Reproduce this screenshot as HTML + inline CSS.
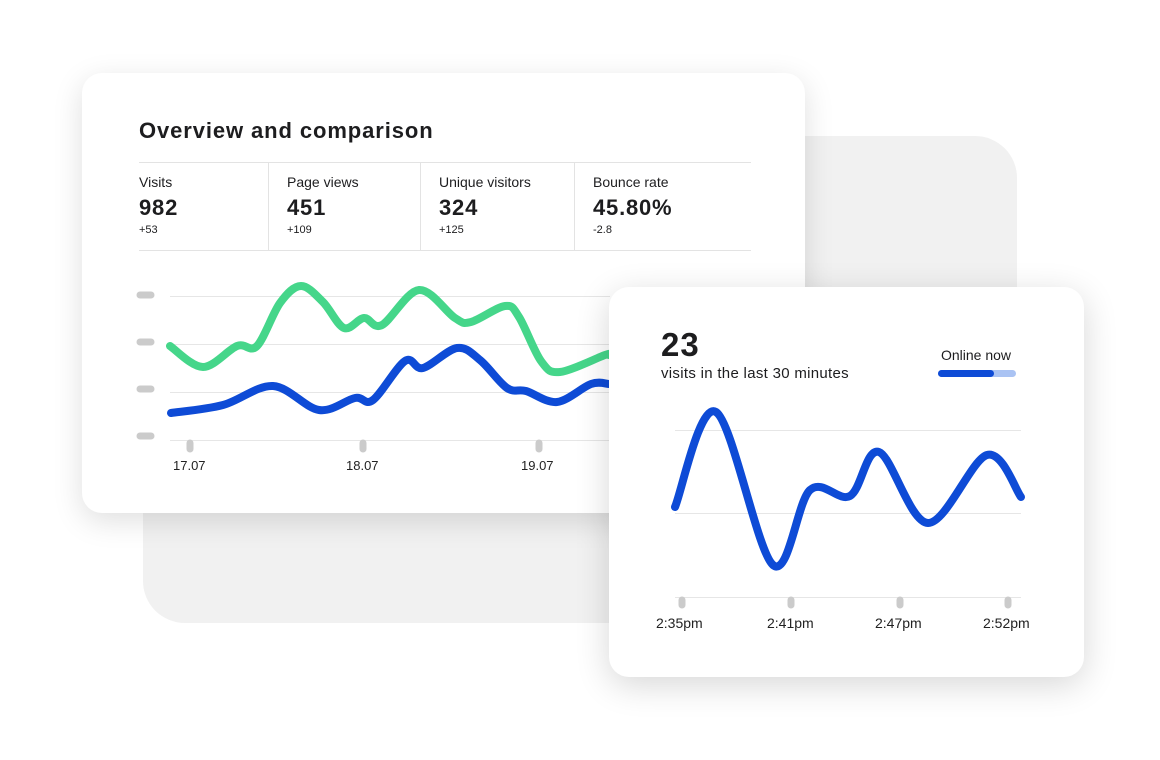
<!DOCTYPE html>
<html><head><meta charset="utf-8"><style>
html,body{margin:0;padding:0;background:#fff;}
body{width:1160px;height:760px;position:relative;overflow:hidden;font-family:"Liberation Sans",sans-serif;color:#1d1d1f;}
.bg{position:absolute;left:143px;top:136px;width:874px;height:487px;background:#f1f1f1;border-radius:42px;}
.card{position:absolute;background:#fff;border-radius:20px;box-shadow:0 8px 30px rgba(0,0,0,0.13);}
.t{position:absolute;white-space:nowrap;}
.v{font-size:22px;font-weight:bold;letter-spacing:0.8px;}
svg{position:absolute;left:0;top:0;}
</style></head><body>
<div class="bg"></div>
<div class="card" style="left:82px;top:73px;width:723px;height:440px;"></div>
<div class="t" style="left:139px;top:118px;font-size:22px;font-weight:bold;letter-spacing:0.9px;">Overview and comparison</div>
<div style="position:absolute;left:139px;top:162px;width:612px;height:1px;background:#e3e3e3"></div>
<div style="position:absolute;left:139px;top:250px;width:612px;height:1px;background:#e3e3e3"></div>
<div style="position:absolute;left:268px;top:162px;width:1px;height:88px;background:#e3e3e3"></div>
<div style="position:absolute;left:420px;top:162px;width:1px;height:88px;background:#e3e3e3"></div>
<div style="position:absolute;left:574px;top:162px;width:1px;height:88px;background:#e3e3e3"></div>
<div class="t" style="left:139px;top:174px;font-size:14px;">Visits</div>
<div class="t v" style="left:139px;top:195px;">982</div>
<div class="t" style="left:139px;top:224px;font-size:11px;">+53</div>
<div class="t" style="left:287px;top:174px;font-size:14px;">Page views</div>
<div class="t v" style="left:287px;top:195px;">451</div>
<div class="t" style="left:287px;top:224px;font-size:11px;">+109</div>
<div class="t" style="left:439px;top:174px;font-size:14px;">Unique visitors</div>
<div class="t v" style="left:439px;top:195px;">324</div>
<div class="t" style="left:439px;top:224px;font-size:11px;">+125</div>
<div class="t" style="left:593px;top:174px;font-size:14px;">Bounce rate</div>
<div class="t v" style="left:593px;top:195px;">45.80%</div>
<div class="t" style="left:593px;top:224px;font-size:11px;">-2.8</div>
<svg width="1160" height="760">
<g stroke="#e6e6e6" stroke-width="1">
<line x1="170" y1="296.5" x2="610" y2="296.5"/><line x1="170" y1="344.5" x2="610" y2="344.5"/>
<line x1="170" y1="392.5" x2="610" y2="392.5"/><line x1="170" y1="440.5" x2="610" y2="440.5"/></g>
<g stroke="#cbcbcb" stroke-width="7" stroke-linecap="round">
<line x1="140" y1="295" x2="151" y2="295"/><line x1="140" y1="342" x2="151" y2="342"/>
<line x1="140" y1="389" x2="151" y2="389"/><line x1="140" y1="436" x2="151" y2="436"/>
<line x1="190" y1="443" x2="190" y2="449"/><line x1="363" y1="443" x2="363" y2="449"/><line x1="539" y1="443" x2="539" y2="449"/></g>
<path id="g" fill="none" stroke="#45d68a" stroke-width="8" stroke-linecap="round"/>
<path id="b" fill="none" stroke="#0e4bd6" stroke-width="8" stroke-linecap="round"/>
<g font-size="13" fill="#222"><text x="173" y="470">17.07</text><text x="346" y="470">18.07</text><text x="521" y="470">19.07</text></g>
</svg>
<div class="card" style="left:609px;top:287px;width:475px;height:390px;box-shadow:0 8px 34px rgba(0,0,0,0.16);"></div>
<div class="t" style="left:661px;top:326px;font-size:33px;font-weight:bold;letter-spacing:1px;">23</div>
<div class="t" style="left:661px;top:365px;font-size:15px;letter-spacing:0.3px;">visits in the last 30 minutes</div>
<div class="t" style="left:941px;top:347px;font-size:14px;">Online now</div>
<div style="position:absolute;left:938px;top:370px;width:78px;height:7px;border-radius:4px;background:#aac3f3"></div>
<div style="position:absolute;left:938px;top:370px;width:56px;height:7px;border-radius:4px;background:#0e4bd6"></div>
<svg width="1160" height="760">
<g stroke="#e6e6e6" stroke-width="1">
<line x1="675" y1="430.5" x2="1021" y2="430.5"/><line x1="675" y1="513.5" x2="1021" y2="513.5"/><line x1="675" y1="597.5" x2="1021" y2="597.5"/></g>
<g stroke="#cbcbcb" stroke-width="7" stroke-linecap="round">
<line x1="682" y1="600" x2="682" y2="605"/><line x1="791" y1="600" x2="791" y2="605"/><line x1="900" y1="600" x2="900" y2="605"/><line x1="1008" y1="600" x2="1008" y2="605"/></g>
<path id="c" fill="none" stroke="#0e4bd6" stroke-width="8" stroke-linecap="round"/>
<g font-size="14" fill="#222"><text x="656" y="628">2:35pm</text><text x="767" y="628">2:41pm</text><text x="875" y="628">2:47pm</text><text x="983" y="628">2:52pm</text></g>
</svg>
<script>
function cr(p){let d="M"+p[0][0]+","+p[0][1];for(let i=0;i<p.length-1;i++){const a=p[i-1]||p[i],b=p[i],c=p[i+1],e=p[i+2]||c;
d+=" C"+(b[0]+(c[0]-a[0])/6)+","+(b[1]+(c[1]-a[1])/6)+" "+(c[0]-(e[0]-b[0])/6)+","+(c[1]-(e[1]-b[1])/6)+" "+c[0]+","+c[1];}return d;}
document.getElementById("g").setAttribute("d",cr([[170,346],[203,367],[237,346],[257,346],[280,303],[301,286],[323,302],[344,328],[364,318],[382,325],[419,290],[455,318],[471,322],[505,306],[519,317],[541,361],[560,372],[605,355],[609,355]]));
document.getElementById("b").setAttribute("d",cr([[171,413],[223,405],[273,386],[319,410],[355,398],[373,400],[405,361],[423,368],[457,348],[480,360],[507,388],[526,391],[557,402],[591,384],[609,384]]));
document.getElementById("c").setAttribute("d",cr([[675,507],[716,412],[773,565],[810,490],[850,496],[879,452],[928,523],[987,455],[1021,497]]));
</script>
</body></html>
